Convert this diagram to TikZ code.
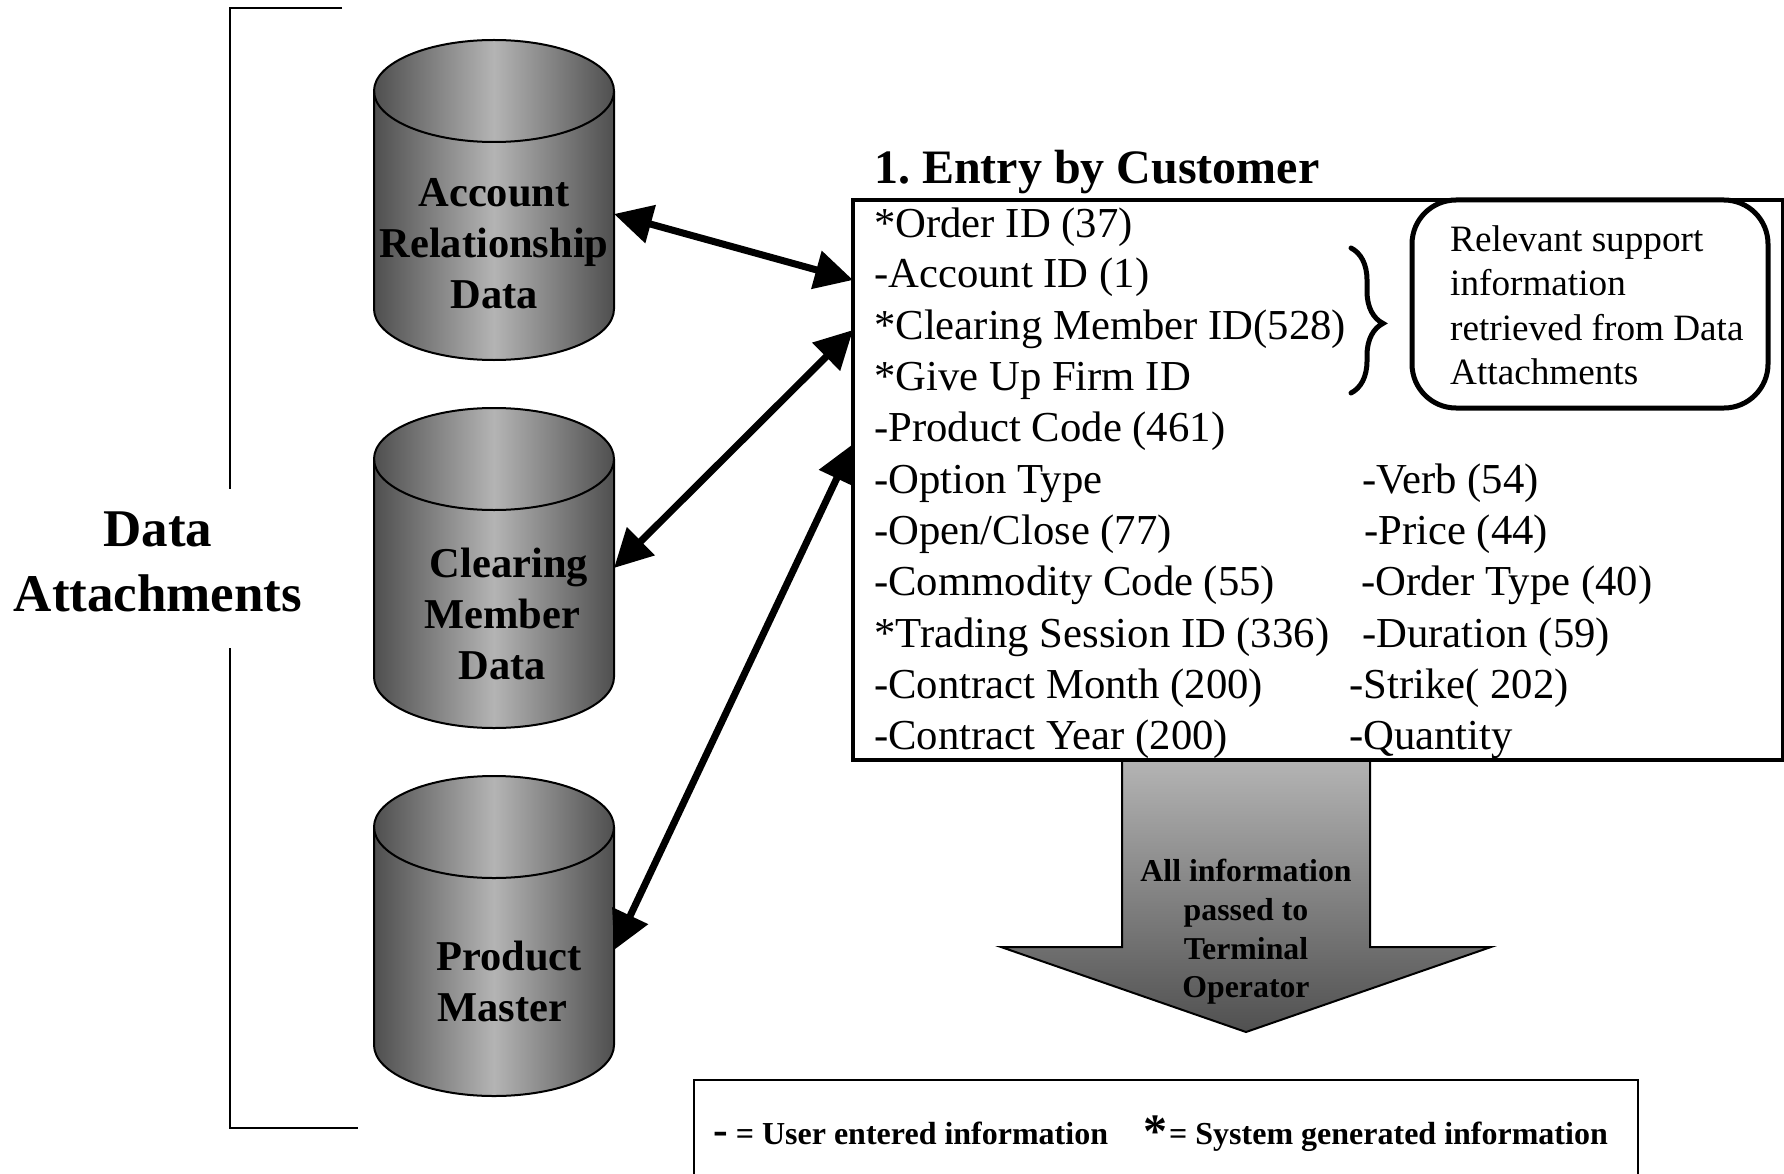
\documentclass[tikz,border=0pt]{standalone}
\usepackage{fontspec}
\setmainfont{Liberation Serif}
\frenchspacing
\usetikzlibrary{arrows.meta,calc,decorations.pathreplacing}
\definecolor{CylDark}{HTML}{4F4F4F}
\definecolor{CylLight}{HTML}{B4B4B4}
\definecolor{ArrTop}{HTML}{B4B4B4}
\definecolor{ArrBot}{HTML}{505050}
\newcommand{\fsz}[2]{\fontsize{#1}{#2}\selectfont}
\tikzset{
    dbbody/.style = {minimum width=240pt, minimum height=320pt, inner sep=0pt, outer sep=0pt},
    dbshade/.style = {line width=2pt, left color=CylDark, right color=CylDark, middle color=CylLight},
    dblabel/.style = {align=center, font=\bfseries\fsz{42.5}{51}},
    field/.style = {anchor=base west, inner sep=0pt, font=\fsz{42.7}{42.7}},
    link/.style = {line width=7pt, {Triangle[length=38pt,width=38pt]}-{Triangle[length=38pt,width=38pt]}},
    bracketline/.style = {line width=2pt}
}
% named empty node with the drum drawn round it
\newcommand{\drum}[3]{
    \node[dbbody] (#1) at (#2,#3) {};
    \draw[dbshade] ([yshift=109pt]#1.west) -- ([yshift=-109pt]#1.west)
        arc[start angle=180,end angle=360,x radius=120pt,y radius=51pt]
        -- ([yshift=109pt]#1.east)
        arc[start angle=0,end angle=180,x radius=120pt,y radius=51pt] -- cycle;
    \draw[line width=2pt] ([yshift=109pt]#1.west)
        arc[start angle=180,end angle=360,x radius=120pt,y radius=51pt];
}
\begin{document}
\begin{tikzpicture}[x=1pt,y=-1pt]
    \useasboundingbox (0,0) rectangle (1784,1174);
    % left bracket
    \draw[bracketline] (342,8) -- (230,8) -- (230,489);
    \draw[bracketline] (230,648) -- (230,1128) -- (358,1128);
    \node[align=center, font=\bfseries\fsz{53}{65}] (attach) at (158,562) {Data\\Attachments};

    \drum{acct}{494}{200}
    \drum{clear}{494}{568}
    \drum{prod}{494}{936}
    \node[dblabel] (acctlabel) at (494,244) {Account\\Relationship\\Data};
    \node[dblabel] (clearlabel) at (502,614) {\hspace*{14pt}Clearing\\Member\\Data};
    \node[dblabel] (prodlabel) at (502,981) {\hspace*{14pt}Product\\Master};

    % down arrow
    \draw[line width=2pt, top color=ArrTop, bottom color=ArrBot] (1122,760) -- (1122,947) -- (1001,947) -- (1246,1032) -- (1491,947) -- (1370,947) -- (1370,760) -- cycle;
    \node[align=center, font=\bfseries\fsz{31.8}{38.6}] (passed) at (1246,932) {All information\\passed to\\Terminal\\Operator};

    % entry box
    \node[draw, line width=4pt, minimum width=930pt, minimum height=560pt, inner sep=0pt, outer sep=0pt] (entry) at (1318,480) {};
    \node[anchor=base west, inner sep=0pt, font=\bfseries\fsz{48}{48}] (title) at (874,184) {1. Entry by Customer};
    \node[field] (f1) at (874,237) {*Order ID (37)};
    \node[field] (f2) at (874,287) {-Account ID (1)};
    \node[field] (f3) at (874,339) {*Clearing Member ID(528)};
    \node[field] (f4) at (874,390) {*Give Up Firm ID};
    \node[field] (f5) at (874,441) {-Product Code (461)};
    \node[field] (f6) at (874,493) {-Option Type};
    \node[field] (f7) at (874,544) {-Open/Close (77)};
    \node[field] (f8) at (874,595) {-Commodity Code (55)};
    \node[field] (f9) at (874,647) {*Trading Session ID (336)};
    \node[field] (f10) at (874,698) {-Contract Month (200)};
    \node[field] (f11) at (874,749) {-Contract Year (200)};
    \node[field] (g1) at (1362,493) {-Verb (54)};
    \node[field] (g2) at (1364,544) {-Price (44)};
    \node[field] (g3) at (1361,595) {-Order Type (40)};
    \node[field] (g4) at (1362,647) {-Duration (59)};
    \node[field] (g5) at (1349,698) {-Strike( 202)};
    \node[field] (g6) at (1349,749) {-Quantity};

    % brace and support box
    \draw[line width=5pt, line cap=round, decorate, decoration={brace,amplitude=32pt,aspect=.52}] (1351,248) -- (1351,393);
    \node[draw, line width=5pt, rounded corners=44pt, fill=white, minimum width=356pt, minimum height=208pt, inner sep=0pt, outer sep=0pt] (support) at (1590,304) {};
    \node[anchor=north west, inner sep=0pt, align=left, font=\fsz{37.2}{44.5}] (supporttext) at (1450,225) {Relevant support\\information\\retrieved from Data\\Attachments};

    % links
    \draw[link] ([xshift=120pt,yshift=-14pt]acct.center) -- ([yshift=-80pt]entry.north west);
    \draw[link] ([xshift=120pt]clear.center) -- ([yshift=-130pt]entry.north west);
    \draw[link] ([xshift=120pt,yshift=-14pt]prod.center) -- ([yshift=-244pt]entry.north west);

    % legend
    \draw[line width=2pt] (694,1174) -- (694,1080) -- (1638,1080) -- (1638,1174);
    \node[anchor=base west, inner sep=0pt, font=\bfseries\fsz{32}{32}] (legenduser) at (713,1144) {{\fsz{44}{44}-} = User entered information};
    \node[anchor=base west, inner sep=0pt, font=\bfseries\fsz{32}{32}] (legendsys) at (1143,1144) {\raisebox{-3pt}{\fsz{48}{48}*}\hspace{-6pt} = System generated information};
\end{tikzpicture}
\end{document}
